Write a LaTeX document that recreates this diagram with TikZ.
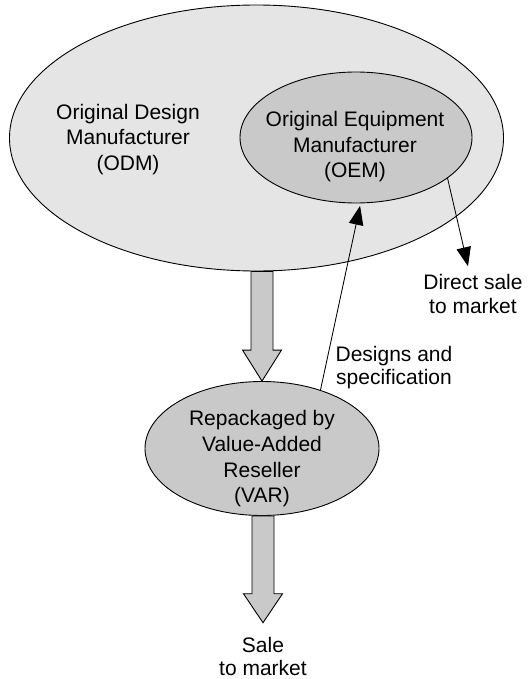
\documentclass[tikz,border=0pt]{standalone}
\usepackage{fontspec}
\setmainfont{Liberation Sans}
\usetikzlibrary{arrows.meta,calc,shapes.geometric}
\definecolor{outerfill}{gray}{0.9}
\definecolor{innerfill}{gray}{0.79}

% wide hollow arrow pointing straight down from the level of #1 to the tip #2
\newcommand\blockarrow[3]{%
  \draw[blockarrow]
    ($(#2|-#1)+(-11,0)$) -- ($(#2)+(-11,-#3)$) -- ($(#2)+(-19.5,-#3)$) --
    (#2) --
    ($(#2)+(19.5,-#3)$) -- ($(#2)+(11,-#3)$) -- ($(#2|-#1)+(11,0)$) -- cycle;}

\begin{document}
\begin{tikzpicture}[x=1pt,y=-1pt,
  every node/.style={font=\fontsize{21}{25.6}\selectfont},
  region/.style={ellipse,draw,line width=0.9pt,inner sep=0pt},
  caption/.style={align=center,inner sep=2pt},
  flowlabel/.style={align=center,inner sep=2pt,font=\fontsize{21}{23.5}\selectfont},
  thinarrow/.style={line width=0.85pt,-{Triangle[length=19pt,width=14.5pt]}},
  blockarrow/.style={draw,fill=innerfill,line width=0.9pt,line join=miter}]
\path[use as bounding box,fill=white] (0,0) rectangle (529,679);

% regions
\node[region,fill=outerfill,minimum width=494pt,minimum height=266pt] (odm) at (256.5,138) {};
\node[region,fill=innerfill,minimum width=232pt,minimum height=131pt] (oem) at (356,137.5) {};
\node[region,fill=innerfill,minimum width=234pt,minimum height=134pt] (var) at (262,448.5) {};

% texts
\node[caption] (odmtext) at (128,139.5) {Original Design\\Manufacturer\\(ODM)};
\node[caption] (oemtext) at (355,146.8) {Original Equipment\\Manufacturer\\(OEM)};
\node[caption] (vartext) at (262,458.8) {Repackaged by\\Value-Added\\Reseller\\(VAR)};
\node[flowlabel] (designs) at (394,367.5) {Designs and\\specification};
\node[flowlabel] (direct) at (473,293.9) {Direct sale\\to market};
\node[flowlabel] (sale) at (263,656.4) {Sale\\to market};

\coordinate (saletip) at ($(sale.north)+(0,-12)$);

% flows
\blockarrow{odm.south}{var.north}{31}
\blockarrow{var.south}{saletip}{29}
\draw[thinarrow,shorten >=2.5pt] (var.45.5) -- (oem.-86);
\draw[thinarrow] (oem.-24) -- ([xshift=-5pt,yshift=6pt]direct.north);
\end{tikzpicture}
\end{document}
